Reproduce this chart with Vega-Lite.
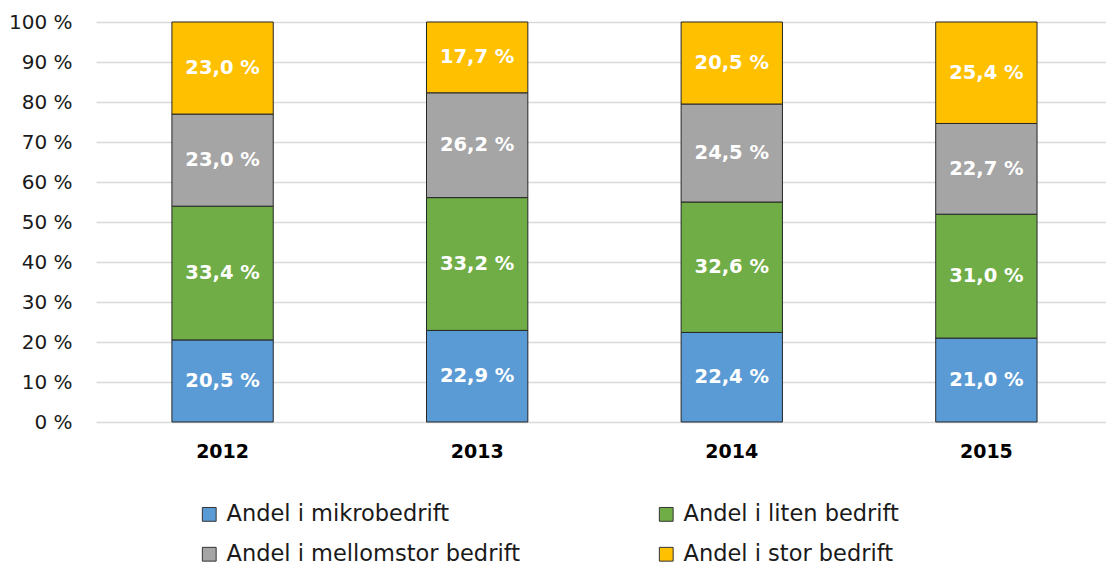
{
  "$schema": "https://vega.github.io/schema/vega-lite/v6.json",
  "width": 1010,
  "height": 400,
  "autosize": {"type": "none"},
  "padding": {"left": 96, "top": 22, "right": 0, "bottom": 143},
  "background": "white",
  "config": {
    "view": {"stroke": null},
    "font": "DejaVu Sans"
  },
  "data": {
    "values": [
      {"year": "2012", "cat": "Andel i mikrobedrift", "idx": 1, "value": 20.5, "label": "20,5 %"},
      {"year": "2012", "cat": "Andel i liten bedrift", "idx": 2, "value": 33.4, "label": "33,4 %"},
      {"year": "2012", "cat": "Andel i mellomstor bedrift", "idx": 3, "value": 23.0, "label": "23,0 %"},
      {"year": "2012", "cat": "Andel i stor bedrift", "idx": 4, "value": 23.0, "label": "23,0 %"},
      {"year": "2013", "cat": "Andel i mikrobedrift", "idx": 1, "value": 22.9, "label": "22,9 %"},
      {"year": "2013", "cat": "Andel i liten bedrift", "idx": 2, "value": 33.2, "label": "33,2 %"},
      {"year": "2013", "cat": "Andel i mellomstor bedrift", "idx": 3, "value": 26.2, "label": "26,2 %"},
      {"year": "2013", "cat": "Andel i stor bedrift", "idx": 4, "value": 17.7, "label": "17,7 %"},
      {"year": "2014", "cat": "Andel i mikrobedrift", "idx": 1, "value": 22.4, "label": "22,4 %"},
      {"year": "2014", "cat": "Andel i liten bedrift", "idx": 2, "value": 32.6, "label": "32,6 %"},
      {"year": "2014", "cat": "Andel i mellomstor bedrift", "idx": 3, "value": 24.5, "label": "24,5 %"},
      {"year": "2014", "cat": "Andel i stor bedrift", "idx": 4, "value": 20.5, "label": "20,5 %"},
      {"year": "2015", "cat": "Andel i mikrobedrift", "idx": 1, "value": 21.0, "label": "21,0 %"},
      {"year": "2015", "cat": "Andel i liten bedrift", "idx": 2, "value": 31.0, "label": "31,0 %"},
      {"year": "2015", "cat": "Andel i mellomstor bedrift", "idx": 3, "value": 22.7, "label": "22,7 %"},
      {"year": "2015", "cat": "Andel i stor bedrift", "idx": 4, "value": 25.4, "label": "25,4 %"}
    ]
  },
  "encoding": {
    "x": {
      "field": "year",
      "type": "nominal",
      "scale": {"paddingInner": 0.602, "paddingOuter": 0.2845, "align": 0.524},
      "axis": {
        "title": null,
        "labelAngle": 0,
        "domain": false,
        "ticks": false,
        "labelFont": "DejaVu Sans",
        "labelFontSize": 19,
        "labelFontWeight": "bold",
        "labelColor": "#000000",
        "labelPadding": 20
      }
    },
    "y": {
      "field": "value",
      "type": "quantitative",
      "stack": "normalize",
      "scale": {"domain": [0, 1]},
      "axis": {
        "title": null,
        "values": [0, 0.1, 0.2, 0.3, 0.4, 0.5, 0.6, 0.7, 0.8, 0.9, 1],
        "labelExpr": "round(datum.value * 100) + ' %'",
        "domain": false,
        "ticks": false,
        "grid": true,
        "gridColor": "#D9D9D9",
        "gridWidth": 1.5,
        "labelFont": "DejaVu Sans",
        "labelFontSize": 20,
        "labelColor": "#1a1a1a",
        "labelPadding": 24
      }
    },
    "order": {"field": "idx", "type": "quantitative", "sort": "ascending"}
  },
  "layer": [
    {
      "mark": {"type": "bar", "stroke": "#262626", "strokeWidth": 1},
      "encoding": {
        "color": {
          "field": "cat",
          "type": "nominal",
          "scale": {
            "domain": ["Andel i mikrobedrift", "Andel i mellomstor bedrift", "Andel i liten bedrift", "Andel i stor bedrift"],
            "range": ["#5B9BD5", "#A5A5A5", "#70AD47", "#FFC000"]
          },
          "legend": {
            "title": null,
            "orient": "none",
            "legendX": 102,
            "legendY": 481,
            "columns": 2,
            "columnPadding": 135,
            "rowPadding": 17,
            "symbolType": "square",
            "symbolSize": 190,
            "symbolStrokeColor": "#333333",
            "symbolStrokeWidth": 1,
            "symbolOffset": 0,
            "labelFont": "DejaVu Sans",
            "labelFontSize": 22.5,
            "labelColor": "#1a1a1a",
            "labelOffset": 6,
            "labelLimit": 400
          }
        }
      }
    },
    {
      "mark": {"type": "text", "color": "white", "font": "DejaVu Sans", "fontWeight": "bold", "fontSize": 19.5, "baseline": "middle", "align": "center"},
      "encoding": {
        "y": {"field": "value", "type": "quantitative", "stack": "normalize", "bandPosition": 0.5},
        "text": {"field": "label", "type": "nominal"}
      }
    }
  ]
}
